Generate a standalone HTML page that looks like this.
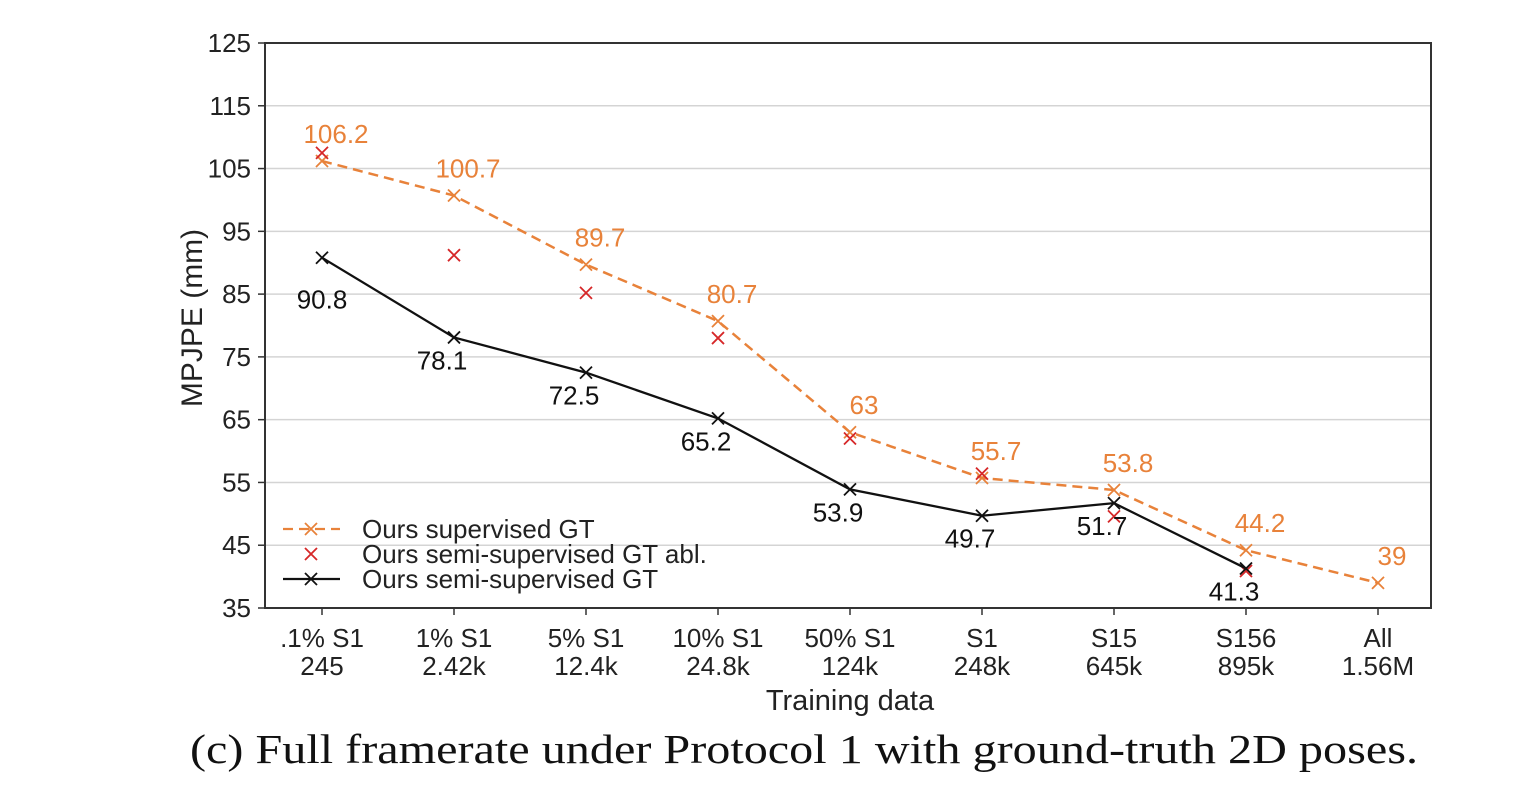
<!DOCTYPE html>
<html><head><meta charset="utf-8"><style>
body{margin:0;background:#fff;width:1528px;height:790px;overflow:hidden}
svg text{font-family:"Liberation Sans",sans-serif}
</style></head><body>
<svg id="c" width="1528" height="790"></svg>
<script>
const categories=[".1% S1|245","1% S1|2.42k","5% S1|12.4k","10% S1|24.8k","50% S1|124k","S1|248k","S15|645k","S156|895k","All|1.56M"];
const supervised=[106.2,100.7,89.7,80.7,63,55.7,53.8,44.2,39];
const semiAbl=[107.5,91.2,85.2,78,62,56.4,49.6,40.9,null];
const semi=[90.8,78.1,72.5,65.2,53.9,49.7,51.7,41.3,null];
const yTicks=[35,45,55,65,75,85,95,105,115,125];
const svg=document.getElementById('c');const NS='http://www.w3.org/2000/svg';
const L=265,R=1431,T=43,B=608;
const x=i=>322+i*(1378-322)/8;
const y=v=>B-(v-35)/(125-35)*(B-T);
function el(t,a,p){const e=document.createElementNS(NS,t);for(const k in a)e.setAttribute(k,a[k]);(p||svg).appendChild(e);return e;}
yTicks.forEach(v=>{
 if(v>35&&v<125){const g=el('line',{x1:L,x2:R,y1:y(v),y2:y(v),stroke:'#d4d4d4','stroke-width':1.5});
 
 }
 el('line',{x1:L-7,x2:L,y1:y(v),y2:y(v),stroke:'#333','stroke-width':1.5});
 const t=el('text',{x:L-14,y:y(v)+9,'text-anchor':'end','font-size':26,fill:'#222'});t.textContent=v;
 
 
});
const fr=el('rect',{x:L,y:T,width:R-L,height:B-T,fill:'none',stroke:'#333','stroke-width':2});


categories.forEach((c,i)=>{
 el('line',{x1:x(i),x2:x(i),y1:B,y2:B+7,stroke:'#333','stroke-width':1.5});
 const [a,b]=c.split('|');
 const t=el('text',{x:x(i),y:B+39,'text-anchor':'middle','font-size':26,fill:'#222'});t.textContent=a;
 
 
 const t2=el('text',{x:x(i),y:B+67,'text-anchor':'middle','font-size':26,fill:'#222'});t2.textContent=b;
 
 
});
function cross(cx,cy,col,name){const g=el('path',{d:`M${cx-6},${cy-6}L${cx+6},${cy+6}M${cx-6},${cy+6}L${cx+6},${cy-6}`,stroke:col,'stroke-width':1.8,fill:'none'});
 
 }
const OR='#e8823a',RED='#d62728';
let d='';supervised.forEach((v,i)=>{d+=(i?'L':'M')+x(i)+','+y(v);});
const l1=el('path',{d,stroke:OR,'stroke-width':2.5,fill:'none','stroke-dasharray':'10,6'});


supervised.forEach((v,i)=>{cross(x(i),y(v),OR,'supervised-point');
 const t=el('text',{x:x(i)+14,y:y(v)-18,'text-anchor':'middle','font-size':26,fill:OR});t.textContent=v;
 
 });
semiAbl.forEach((v,i)=>{if(v!=null)cross(x(i),y(v),RED,'semi-abl-point');});
d='';semi.forEach((v,i)=>{if(v!=null)d+=(i?'L':'M')+x(i)+','+y(v);});
const l2=el('path',{d,stroke:'#111','stroke-width':2.3,fill:'none'});


semi.forEach((v,i)=>{if(v==null)return;cross(x(i),y(v),'#111','semi-point');
 const t=el('text',{x:i?x(i)-12:x(i),y:y(v)+(i?32:51),'text-anchor':'middle','font-size':26,fill:'#111'});t.textContent=v;
 
 });
const leg=[[OR,true,'Ours supervised GT'],[RED,false,'Ours semi-supervised GT abl.'],['#111',true,'Ours semi-supervised GT']];
leg.forEach((e,k)=>{const ly=529+k*25;
 if(e[1])el('line',{x1:283,x2:340,y1:ly,y2:ly,stroke:e[0],'stroke-width':2.3,'stroke-dasharray':k==0?'10,6':'none'});
 cross(311,ly,e[0],'legend-marker');
 const t=el('text',{x:362,y:ly+9,'font-size':26,fill:'#222'});t.textContent=e[2];
 
 });
let t=el('text',{x:850,y:710,'text-anchor':'middle','font-size':29,fill:'#222'});t.textContent='Training data';


t=el('text',{x:0,y:0,'text-anchor':'middle','font-size':30,fill:'#222',transform:'translate(202,318) rotate(-90)'});t.textContent='MPJPE (mm)';


t=el('text',{x:190,y:763,'font-size':41,fill:'#111',textLength:1228,lengthAdjust:'spacingAndGlyphs'});t.textContent='(c) Full framerate under Protocol 1 with ground-truth 2D poses.';
t.setAttribute('style','font-family:"Liberation Serif",serif');


</script>
</body></html>
